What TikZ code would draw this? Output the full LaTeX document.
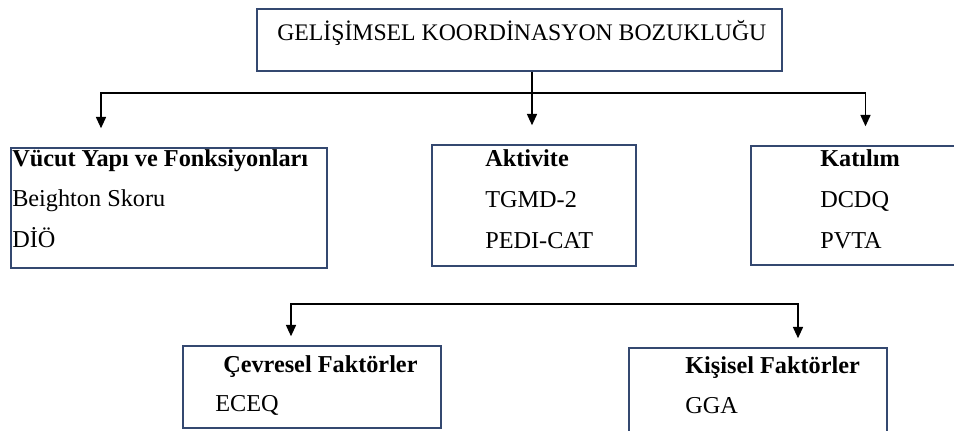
\documentclass[tikz,border=0pt]{standalone}
\usepackage{fontspec}
\setmainfont{Liberation Serif}
\usepackage{xcolor}
\usetikzlibrary{arrows.meta,calc,fit,positioning}
\definecolor{KutuMavi}{RGB}{52,72,112}

\tikzset{
  kutu/.style={draw=KutuMavi, line width=1.1pt, inner sep=0pt},
  yazi/.style={anchor=base west, inner sep=0pt, font=\fontsize{18.2}{21}\selectfont},
  baslik/.style={yazi, font=\fontsize{18.2}{21}\selectfont\bfseries},
  ok/.style={line width=1.2pt, -{Triangle[length=8.5pt,width=7.5pt]}}
}

\begin{document}
\begin{tikzpicture}[x=0.75pt,y=-0.75pt]
\useasboundingbox (0,0) rectangle (954,430);

% kutular
\node[kutu, fit={(257,9) (782,71)}] (ana) {};
\node[kutu, fit={(11,148) (327,268)}] (vucut) {};
\node[kutu, fit={(432,145) (636,266)}] (aktivite) {};
\node[kutu, fit={(751,146) (962,265)}] (katilim) {};
\node[kutu, fit={(183,346) (441,428)}] (cevre) {};
\node[kutu, fit={(629,348) (887,440)}] (kisisel) {};

% yazilar
\node[yazi, font=\fontsize{17.8}{20}\selectfont] (anaT) at (277,40) {GELİŞİMSEL KOORDİNASYON BOZUKLUĞU};

\node[baslik] (vucutT) at (12,166) {Vücut Yapı ve Fonksiyonları};
\node[yazi] (vucut1) at (12,206) {Beighton Skoru};
\node[yazi] (vucut2) at (12,247) {DİÖ};

\node[baslik] (aktiviteT) at (485,166) {Aktivite};
\node[yazi] (aktivite1) at (485,207) {TGMD-2};
\node[yazi] (aktivite2) at (485,248) {PEDI-CAT};

\node[baslik] (katilimT) at (820,166) {Katılım};
\node[yazi] (katilim1) at (820,207) {DCDQ};
\node[yazi] (katilim2) at (820,248) {PVTA};

\node[baslik] (cevreT) at (223,372) {Çevresel Faktörler};
\node[yazi] (cevre1) at (215,411) {ECEQ};

\node[baslik] (kisiselT) at (685,373) {Kişisel Faktörler};
\node[yazi] (kisisel1) at (685,413) {GGA};

% oklar
\coordinate (dal) at (532,93);
\coordinate (dal2) at (545,304);
\draw[line width=1.2pt] ($(ana.south)+(12.5,0)$) -- (dal);
\foreach \b/\dx in {vucut/-68,aktivite/-2,katilim/9}
  \draw[ok] (dal) -| ($(\b.north)+(\dx,-19)$);
\foreach \b/\dx in {cevre/-21,kisisel/40}
  \draw[ok] (dal2) -| ($(\b.north)+(\dx,-9)$);
\end{tikzpicture}
\end{document}
